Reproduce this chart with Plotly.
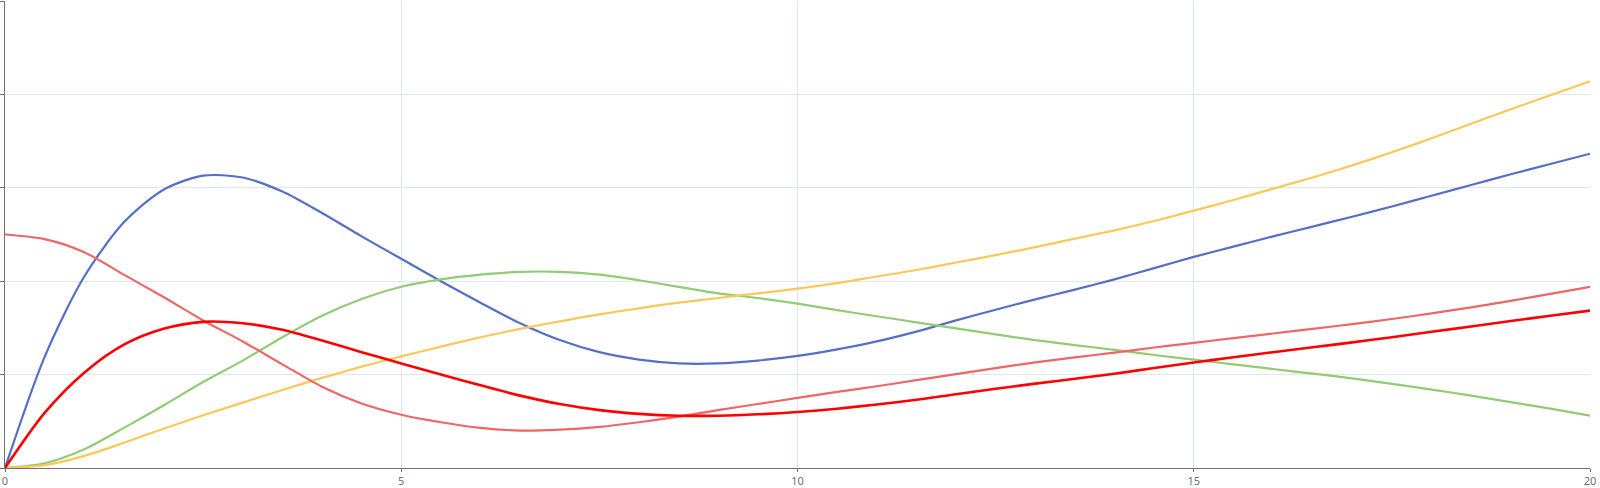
import plotly.graph_objects as go

x_vals = [i * 0.5 for i in range(41)]

blue = [0, 1.19, 2.05, 2.63, 2.98, 3.13, 3.11, 2.96, 2.73, 2.48, 2.24, 2.00, 1.77, 1.55, 1.37, 1.24,
        1.16, 1.12, 1.12, 1.15, 1.20, 1.27, 1.355, 1.46, 1.58, 1.695, 1.805, 1.91, 2.02, 2.14, 2.26,
        2.37, 2.48, 2.585, 2.69, 2.80, 2.915, 3.03, 3.145, 3.255, 3.365]
green = [0, 0.05, 0.20, 0.43, 0.67, 0.92, 1.15, 1.40, 1.63, 1.81, 1.94, 2.02, 2.07, 2.10, 2.10, 2.07,
         2.01, 1.94, 1.87, 1.82, 1.76, 1.69, 1.625, 1.56, 1.495, 1.43, 1.37, 1.315, 1.265, 1.21, 1.16,
         1.11, 1.06, 1.01, 0.96, 0.90, 0.84, 0.775, 0.705, 0.635, 0.56]
yellow = [0, 0.03, 0.13, 0.27, 0.42, 0.565, 0.70, 0.835, 0.965, 1.085, 1.195, 1.30, 1.40, 1.49, 1.57, 1.645,
          1.71, 1.77, 1.82, 1.87, 1.92, 1.98, 2.05, 2.12, 2.20, 2.28, 2.365, 2.455, 2.545, 2.645, 2.755,
          2.87, 2.99, 3.11, 3.24, 3.38, 3.53, 3.685, 3.84, 3.99, 4.14]
salmon = [2.50, 2.45, 2.31, 2.07, 1.83, 1.58, 1.355, 1.11, 0.87, 0.69, 0.57, 0.49, 0.43, 0.40, 0.41, 0.44,
          0.49, 0.55, 0.62, 0.685, 0.75, 0.815, 0.875, 0.94, 1.005, 1.07, 1.13, 1.185, 1.235, 1.29, 1.34,
          1.39, 1.44, 1.49, 1.54, 1.595, 1.655, 1.72, 1.79, 1.865, 1.94]
red = [0, 0.59, 1.02, 1.32, 1.49, 1.565, 1.55, 1.48, 1.365, 1.24, 1.12, 1.00, 0.885, 0.775, 0.685, 0.62,
       0.58, 0.56, 0.56, 0.575, 0.60, 0.635, 0.68, 0.73, 0.79, 0.848, 0.903, 0.955, 1.01, 1.07, 1.13,
       1.185, 1.24, 1.292, 1.345, 1.40, 1.458, 1.515, 1.573, 1.63, 1.685]

series = [
    ("blue", blue, "#5470c6", 2.2),
    ("green", green, "#91cc75", 2.2),
    ("yellow", yellow, "#fac858", 2.2),
    ("salmon", salmon, "#ee6666", 2.2),
    ("red", red, "#ff0000", 2.6),
]

fig = go.Figure()
for name, ys, color, w in series:
    fig.add_trace(go.Scatter(x=x_vals, y=ys, mode="lines", name=name,
                             line=dict(color=color, width=w, shape="spline", smoothing=0.8)))

axis_col = "#6e7079"
grid_col = "#e0e6f1"
fig.update_layout(
    width=1600, height=488,
    margin=dict(l=5, r=10, t=1, b=20, autoexpand=False),
    paper_bgcolor="white", plot_bgcolor="white",
    showlegend=False,
    font=dict(family="Noto Sans, sans-serif", size=11, color=axis_col),
)
fig.update_xaxes(range=[0, 20], tickvals=[0, 5, 10, 15, 20], ticktext=["0", "5", "10", "15", "20"],
                 showgrid=True, gridcolor=grid_col, gridwidth=1, zeroline=False,
                 showline=True, linecolor=axis_col, linewidth=1, automargin=False,
                 ticks="outside", ticklen=3, tickcolor=axis_col,
                 tickfont=dict(family="Noto Sans, sans-serif", size=11, color=axis_col))
fig.update_yaxes(range=[0, 5], dtick=1, showticklabels=False, automargin=False,
                 showgrid=True, gridcolor=grid_col, gridwidth=1, zeroline=False,
                 showline=True, linecolor=axis_col, linewidth=1,
                 ticks="outside", ticklen=4, tickcolor=axis_col)

fig.write_html("out.html", config={"displayModeBar": False},
               post_script="document.body.style.margin='0px';document.body.style.overflow='hidden';")
